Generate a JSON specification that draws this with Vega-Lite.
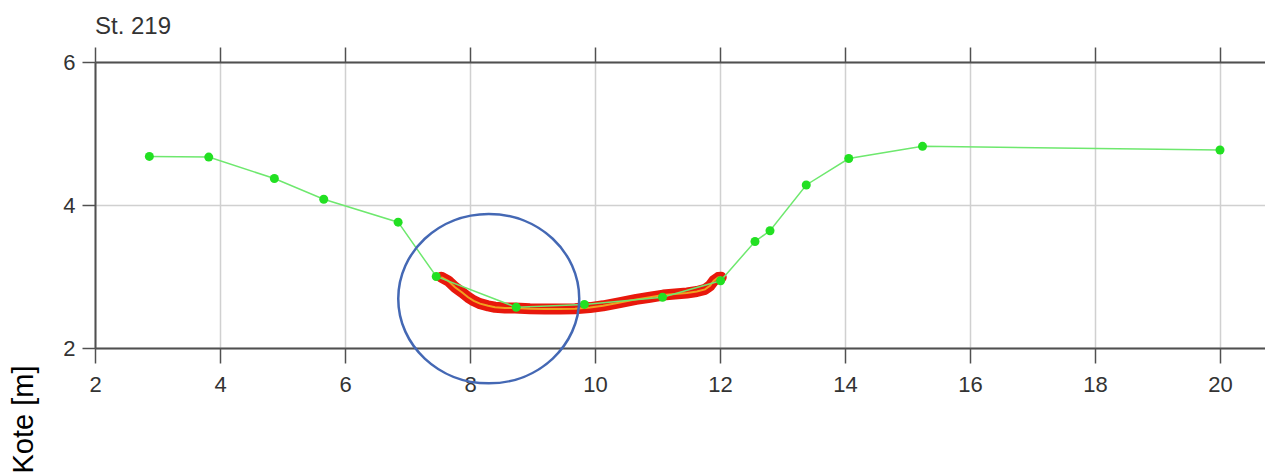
{
  "$schema": "https://vega.github.io/schema/vega-lite/v6.json",
  "width": 1170,
  "height": 286,
  "autosize": {"type": "none"},
  "padding": {"left": 95, "top": 62, "right": 0, "bottom": 126},
  "background": "white",
  "title": {"text": "St. 219", "anchor": "start", "frame": "group", "font": "Liberation Sans", "fontSize": 24, "fontWeight": "normal", "color": "#333333", "baseline": "alphabetic", "offset": 13, "dy": 25},
  "datasets": {
    "profile": [
      {"station": 2.87, "kote": 4.68},
      {"station": 3.82, "kote": 4.67},
      {"station": 4.87, "kote": 4.37},
      {"station": 5.66, "kote": 4.08},
      {"station": 6.85, "kote": 3.76},
      {"station": 7.46, "kote": 3.0},
      {"station": 8.74, "kote": 2.57},
      {"station": 9.83, "kote": 2.61},
      {"station": 11.08, "kote": 2.71},
      {"station": 12.01, "kote": 2.94},
      {"station": 12.56, "kote": 3.49},
      {"station": 12.8, "kote": 3.64},
      {"station": 13.38, "kote": 4.28},
      {"station": 14.06, "kote": 4.65},
      {"station": 15.24, "kote": 4.82},
      {"station": 20.0, "kote": 4.77}
    ],
    "survey": [
      {"station": 7.54, "kote": 2.99},
      {"station": 7.65, "kote": 2.94},
      {"station": 7.76, "kote": 2.85},
      {"station": 7.87, "kote": 2.78},
      {"station": 7.97, "kote": 2.71},
      {"station": 8.06, "kote": 2.66},
      {"station": 8.16, "kote": 2.62},
      {"station": 8.29, "kote": 2.59},
      {"station": 8.4, "kote": 2.57},
      {"station": 8.56, "kote": 2.56},
      {"station": 8.72, "kote": 2.56},
      {"station": 8.96, "kote": 2.55},
      {"station": 9.2, "kote": 2.545},
      {"station": 9.44, "kote": 2.545},
      {"station": 9.68, "kote": 2.55},
      {"station": 9.92, "kote": 2.565},
      {"station": 10.13, "kote": 2.59},
      {"station": 10.4, "kote": 2.635},
      {"station": 10.66, "kote": 2.68},
      {"station": 10.88, "kote": 2.71},
      {"station": 11.09, "kote": 2.74},
      {"station": 11.28, "kote": 2.755},
      {"station": 11.47, "kote": 2.77},
      {"station": 11.63, "kote": 2.79},
      {"station": 11.76, "kote": 2.82},
      {"station": 11.84, "kote": 2.87},
      {"station": 11.9, "kote": 2.94},
      {"station": 11.97, "kote": 2.985},
      {"station": 12.02, "kote": 2.99}
    ],
    "marker": [
      {"station": 8.3, "kote": 2.69}
    ]
  },
  "config": {
    "view": {"stroke": null},
    "axis": {
      "labelFont": "Liberation Sans",
      "labelFontSize": 22,
      "labelColor": "#333333",
      "labelFlush": false,
      "domainColor": "#505050",
      "domainWidth": 2,
      "tickColor": "#505050",
      "tickWidth": 1.5,
      "gridColor": "#d0d0d0",
      "gridWidth": 1.5
    }
  },
  "layer": [
    {
      "data": {"name": "survey"},
      "mark": {"type": "line", "color": "#e8180c", "strokeWidth": 11, "strokeCap": "round", "strokeJoin": "round"},
      "encoding": {
        "x": {"field": "station", "type": "quantitative", "scale": {"domain": [2, 20.72], "nice": false, "zero": false},
          "axis": {"orient": "bottom", "values": [2, 4, 6, 8, 10, 12, 14, 16, 18, 20], "format": "d", "tickSize": 15, "labelPadding": 11, "grid": true, "title": null}},
        "y": {"field": "kote", "type": "quantitative", "scale": {"domain": [2, 6], "nice": false, "zero": false},
          "axis": {"values": [2, 4, 6], "format": "d", "tickSize": 13, "labelPadding": 7, "grid": true, "title": "Kote [m]",
            "titleFont": "Liberation Sans", "titleFontSize": 29, "titleFontWeight": "normal", "titleColor": "#000000",
            "titleAngle": -90, "titleAlign": "left", "titleBaseline": "alphabetic", "titleX": -63, "titleY": 411}}
      }
    },
    {
      "data": {"name": "survey"},
      "mark": {"type": "line", "color": "#f0a020", "strokeWidth": 2},
      "encoding": {
        "x": {"field": "station", "type": "quantitative",
          "axis": {"orient": "top", "values": [2, 4, 6, 8, 10, 12, 14, 16, 18, 20], "tickSize": 15, "labels": false, "grid": false, "title": null}},
        "y": {"field": "kote", "type": "quantitative"}
      }
    },
    {
      "data": {"name": "profile"},
      "mark": {"type": "line", "color": "#6ee86e", "strokeWidth": 1.5},
      "encoding": {
        "x": {"field": "station", "type": "quantitative", "axis": null},
        "y": {"field": "kote", "type": "quantitative"}
      }
    },
    {
      "data": {"name": "profile"},
      "mark": {"type": "point", "filled": true, "color": "#22e022", "size": 81, "opacity": 1},
      "encoding": {
        "x": {"field": "station", "type": "quantitative", "axis": null},
        "y": {"field": "kote", "type": "quantitative"}
      }
    },
    {
      "data": {"name": "marker"},
      "mark": {"type": "point", "shape": "M-1,0A1,0.936,0,1,0,1,0A1,0.936,0,1,0,-1,0Z", "size": 32761, "filled": false, "stroke": "#4468b4", "strokeWidth": 2.5, "opacity": 1},
      "encoding": {
        "x": {"field": "station", "type": "quantitative", "axis": null},
        "y": {"field": "kote", "type": "quantitative"}
      }
    }
  ],
  "resolve": {"axis": {"x": "independent"}}
}
